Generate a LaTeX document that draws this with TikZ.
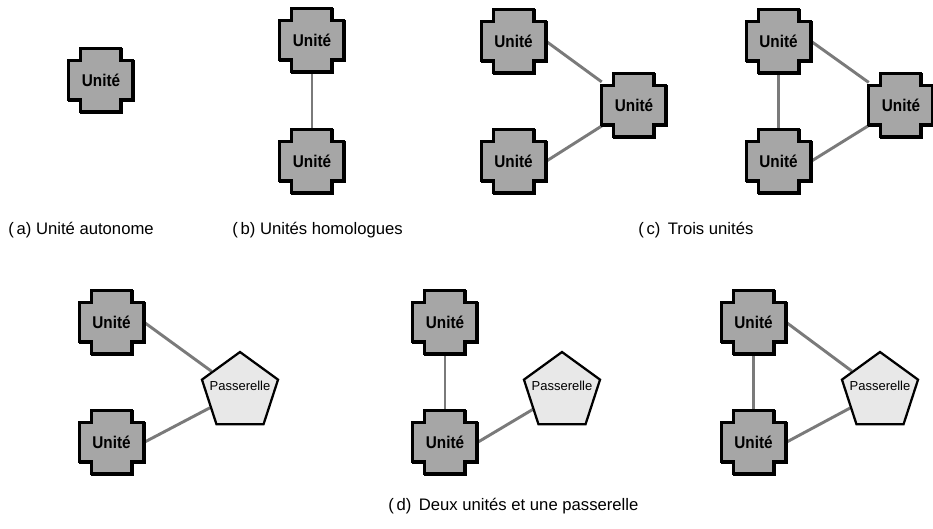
\documentclass[tikz,border=0pt]{standalone}
\usepackage{fontspec}
\usepackage{graphicx}
\setmainfont{Liberation Sans}
\usetikzlibrary{shapes.geometric,calc}

\pgfdeclarelayer{wires}
\pgfdeclarelayer{bodies}
\pgfsetlayers{wires,bodies,main}

\definecolor{unitgray}{RGB}{166,166,166}
\definecolor{gatewaygray}{RGB}{232,232,232}
\definecolor{wiregray}{RGB}{122,122,122}

% notched outline of a unit, laid over the (invisible) rectangle node #1
\newcommand\unitoutline[3]{%
  \draw[#2] ([shift={#3}]#1.north west) ++(12,0) -- ++(40,0) -- ++(0,12) -- ++(12,0)
    -- ++(0,39) -- ++(-12,0) -- ++(0,12) -- ++(-40,0) -- ++(0,-12) -- ++(-12,0)
    -- ++(0,-39) -- ++(12,0) -- cycle;}
\newcommand\unitbody[1]{\unitoutline{#1}{unitshade}{(1.2,1.2)}\unitoutline{#1}{unitskin}{(0,0)}}
\newcommand\unitname{\scalebox{0.9}[1]{Unité}}

\begin{document}
\begin{tikzpicture}[x=0.75pt,y=-0.75pt,
  unit/.style={rectangle, inner sep=0pt, minimum width=48pt, minimum height=47.25pt,
    font=\fontsize{12.75}{14}\selectfont\bfseries},
  unitskin/.style={draw=black, line width=2.3pt, fill=unitgray, line join=miter},
  unitshade/.style={draw=black, line width=2.3pt, line join=miter},
  gateway/.style={regular polygon, regular polygon sides=5, minimum size=60pt,
    inner sep=0pt, draw=black, line width=1.7pt, fill=gatewaygray},
  gatewaytext/.style={inner sep=0pt, font=\fontsize{9.75}{11}\selectfont},
  wire/.style={draw=wiregray, line width=2.2pt},
  caption/.style={anchor=west, inner sep=0pt, font=\fontsize{12.5}{14}\selectfont}]

\useasboundingbox (0,0) rectangle (933,529);

% (a) single unit
\node[unit] (a) at (101,80.5) {\unitname};

% (b) two peer units
\node[unit] (b1) at (312,40) {\unitname};
\node[unit] (b2) at (312,161.5) {\unitname};

% (c) three units, two layouts
\node[unit] (c1a) at (513.5,41) {\unitname};
\node[unit] (c1b) at (513.5,161.5) {\unitname};
\node[unit] (c1r) at (634,105.5) {\unitname};

\node[unit] (c2a) at (778.5,41) {\unitname};
\node[unit] (c2b) at (778.5,161.5) {\unitname};
\node[unit] (c2r) at (901,105.5) {\unitname};

% (d) two units and a gateway, three layouts
\node[unit] (d1a) at (111.5,322) {\unitname};
\node[unit] (d1b) at (111.5,442.5) {\unitname};
\node[gateway] (d1p) at (240,392) {};
\node[gatewaytext] (d1t) at ($(d1p)+(0,-6.5)$) {Passerelle};

\node[unit] (d2a) at (445,322) {\unitname};
\node[unit] (d2b) at (445,442.5) {\unitname};
\node[gateway] (d2p) at (562,392) {};
\node[gatewaytext] (d2t) at ($(d2p)+(0,-6.5)$) {Passerelle};

\node[unit] (d3a) at (753.5,322) {\unitname};
\node[unit] (d3b) at (753.5,442.5) {\unitname};
\node[gateway] (d3p) at (880,392) {};
\node[gatewaytext] (d3t) at ($(d3p)+(0,-6.5)$) {Passerelle};

% unit bodies
\begin{pgfonlayer}{bodies}
  \foreach \n in {a,b1,b2,c1a,c1b,c1r,c2a,c2b,c2r,d1a,d1b,d2a,d2b,d3a,d3b}
    {\unitbody{\n}}
\end{pgfonlayer}

% links
\begin{pgfonlayer}{wires}
  \draw[wire] (b1) -- (b2);
  \draw[wire] (c1a.east) -- (c1r);
  \draw[wire] (c1b.east) -- (c1r);
  \draw[wire] (c2a) -- (c2b);
  \draw[wire] (c2a.east) -- (c2r);
  \draw[wire] (c2b.east) -- (c2r);
  \draw[wire] (d1a.east) -- (d1p);
  \draw[wire] (d1b.east) -- (d1p);
  \draw[wire] (d2a) -- (d2b);
  \draw[wire] (d2b.east) -- (d2p);
  \draw[wire] (d3a) -- (d3b);
  \draw[wire] (d3a.east) -- (d3p);
  \draw[wire] (d3b.east) -- (d3p);
\end{pgfonlayer}

% captions
\node[caption] (capa) at (8,230) {(\,a) Unité autonome};
\node[caption] (capb) at (232,230) {(\,b) Unités homologues};
\node[caption] (capc) at (638,230) {(\,c)\, Trois unités};
\node[caption] (capd) at (388,506) {(\,d)\, Deux unités et une passerelle};
\end{tikzpicture}
\end{document}
